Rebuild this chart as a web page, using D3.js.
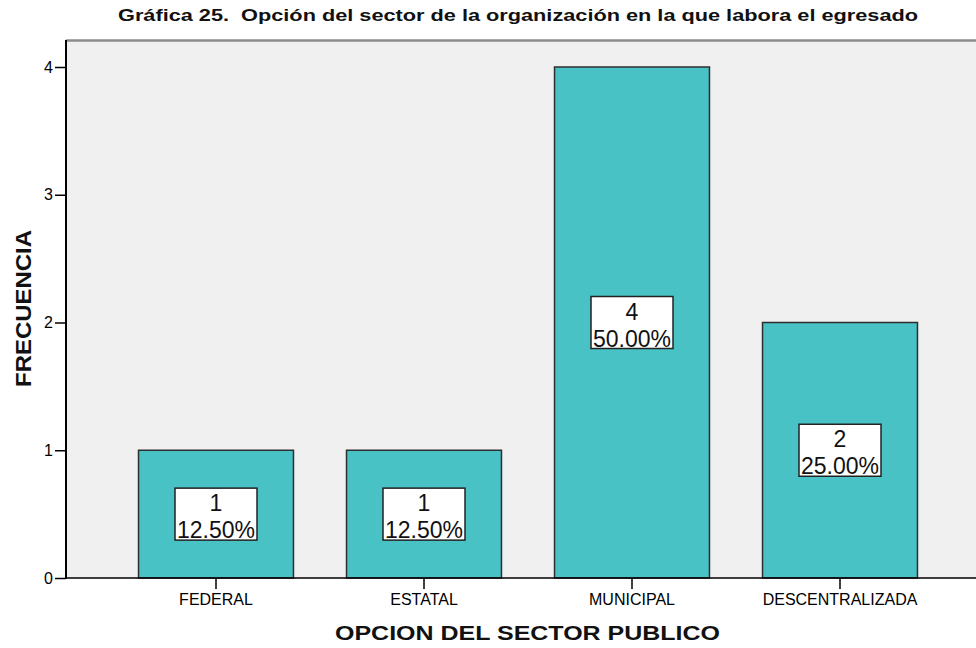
<!DOCTYPE html>
<html>
<head>
<meta charset="utf-8">
<script src="https://cdn.jsdelivr.net/npm/d3@7"></script>
<style>
html,body{margin:0;padding:0;background:#fff;}
svg{display:block;font-family:"Liberation Sans",Arial,sans-serif;}
text{white-space:pre;}
</style>
</head>
<body>
<svg id="chart" width="976" height="648"></svg>
<script>
const categories = ["FEDERAL", "ESTATAL", "MUNICIPAL", "DESCENTRALIZADA"];
const counts = [1, 1, 4, 2];
const percents = [12.5, 12.5, 50, 25];
const yTicks = [0, 1, 2, 3, 4];
const titleText = "Gráfica 25.  Opción del sector de la organización en la que labora el egresado";
const xTitle = "OPCION DEL SECTOR PUBLICO";
const yTitle = "FRECUENCIA";

const svg = d3.select("#chart");
const plot = {left: 66, right: 976, top: 40, bottom: 578};

const x = d3.scaleBand().domain(categories).range([112, 944]).paddingInner(0.255).paddingOuter(0.1275);
const y = d3.scaleLinear().domain([0, 4]).range([578, 67]);

// plot background
svg.append("rect").attr("x", plot.left).attr("y", plot.top)
  .attr("width", plot.right - plot.left).attr("height", plot.bottom - plot.top)
  .attr("fill", "#f0f0f0");
// top border
svg.append("line").attr("x1", plot.left).attr("x2", plot.right).attr("y1", 40.5).attr("y2", 40.5)
  .attr("stroke", "#8c8c8c").attr("stroke-width", 2.5);

// bars
const data = categories.map((c, i) => ({cat: c, n: counts[i], p: percents[i]}));
svg.append("g").selectAll("rect").data(data).join("rect")
  .attr("x", d => x(d.cat)).attr("y", d => y(d.n))
  .attr("width", x.bandwidth()).attr("height", d => y(0) - y(d.n))
  .attr("fill", "#48c2c5").attr("stroke", "#2e2e2e").attr("stroke-width", 1.5);

// axes
const yAxis = d3.axisLeft(y).tickValues(yTicks).tickFormat(d3.format("d")).tickSize(11).tickPadding(2);
const gy = svg.append("g").attr("transform", `translate(${plot.left},0)`).call(yAxis);
gy.select(".domain").remove();
gy.selectAll(".tick line").attr("stroke", "#000").attr("stroke-width", 1.5);
gy.selectAll(".tick text").attr("font-size", 16).attr("fill", "#000")
  .attr("font-family", "Liberation Sans, Arial, sans-serif");

const xAxis = d3.axisBottom(x).tickSize(11).tickPadding(5);
const gx = svg.append("g").attr("transform", `translate(0,${plot.bottom})`).call(xAxis);
gx.select(".domain").remove();
gx.selectAll(".tick line").attr("stroke", "#000").attr("stroke-width", 1.5);
gx.selectAll(".tick text").attr("font-size", 16).attr("fill", "#000")
  .attr("font-family", "Liberation Sans, Arial, sans-serif");

// axis lines
svg.append("line").attr("x1", plot.left).attr("x2", plot.left).attr("y1", plot.top).attr("y2", plot.bottom + 1)
  .attr("stroke", "#000").attr("stroke-width", 2);
svg.append("line").attr("x1", plot.left).attr("x2", plot.right).attr("y1", plot.bottom).attr("y2", plot.bottom)
  .attr("stroke", "#000").attr("stroke-width", 1.5);

// value labels
const boxW = 82, boxH = 52;
const lab = svg.append("g").selectAll("g").data(data).join("g")
  .attr("transform", d => `translate(${x(d.cat) + x.bandwidth() / 2},${y(d.n / 2)})`);
lab.append("rect").attr("x", -boxW / 2).attr("y", -boxH / 2).attr("width", boxW).attr("height", boxH)
  .attr("fill", "#fff").attr("stroke", "#222").attr("stroke-width", 1.5);
lab.append("text").attr("text-anchor", "middle").attr("y", -3).attr("font-size", 23).attr("fill", "#111")
  .text(d => d.n);
lab.append("text").attr("text-anchor", "middle").attr("y", 24).attr("font-size", 23).attr("fill", "#111")
  .text(d => d.p.toFixed(2) + "%");

// titles
svg.append("text").attr("x", 518).attr("y", 21).attr("text-anchor", "middle")
  .attr("font-size", 16).attr("font-weight", "bold").attr("fill", "#111")
  .attr("textLength", 800).attr("lengthAdjust", "spacingAndGlyphs").text(titleText);
svg.append("text").attr("x", 527.5).attr("y", 640).attr("text-anchor", "middle")
  .attr("font-size", 21).attr("font-weight", "bold").attr("fill", "#111")
  .attr("textLength", 385).attr("lengthAdjust", "spacingAndGlyphs").text(xTitle);
svg.append("text").attr("transform", "translate(31,308.5) rotate(-90)").attr("text-anchor", "middle")
  .attr("font-size", 22).attr("font-weight", "bold").attr("fill", "#111")
  .attr("textLength", 157).attr("lengthAdjust", "spacingAndGlyphs").text(yTitle);
</script>
</body>
</html>
